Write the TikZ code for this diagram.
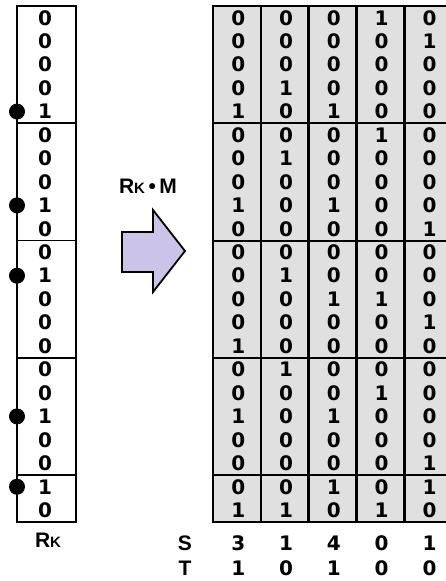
\documentclass[tikz,border=0pt]{standalone}
\usepackage{fontspec}
\setmainfont{DejaVu Sans}
\newfontfamily\labelfont{Liberation Sans}
\usetikzlibrary{positioning}
\definecolor{arrowfill}{RGB}{204,196,232}
\definecolor{cellfill}{RGB}{224,224,224}

\begin{document}
\begin{tikzpicture}[x=1pt, y=-1pt,
        bit/.style={font=\fontsize{20}{20}\selectfont\bfseries, inner sep=0pt},
        lbl/.style={font=\labelfont\fontsize{21}{21}\selectfont\bfseries, inner sep=0pt},
        col frame/.style={draw, line width=1.8pt},
        grid line/.style={draw, line width=2.6pt},
        hit/.style={circle, fill=black, minimum size=16pt, inner sep=0pt}]
    \useasboundingbox (0,0) rectangle (445,581);

    % the Rk column
    \draw[col frame] (17,6) rectangle (76,521.9);
    \foreach \b in {5,10,15,20}
        \draw[col frame] (17,{6+23.45*\b}) -- (76,{6+23.45*\b});
    \foreach \v [count=\r] in {0,0,0,0,1, 0,0,0,1,0, 0,1,0,0,0, 0,0,1,0,0, 1,0} {
        \node[bit] (rk-\r) at (45,{6+23.45*\r-11.7}) {\v};
        \ifnum\v=1 \node[hit] (dot-\r) at (17,{6+23.45*\r-11.7}) {}; \fi
    }
    \node[lbl] (rk) at (48,540) {R{\fontsize{15}{15}\selectfont K}};

    % block arrow and its label
    \draw[line width=1.8pt, fill=arrowfill, line join=miter]
        (122,232) -- (153,232) -- (153,210) -- (185,251) -- (153,292)
        -- (153,272) -- (122,272) -- cycle;
    \node[lbl] (prod) at (148,186) {R{\fontsize{15}{15}\selectfont K}\,•\,M};

    % the matrix M
    \fill[cellfill] (213,6) rectangle (452,521.9);
    \foreach \b in {5,10,15,20}
        \draw[line width=2pt] (213,{6+23.45*\b}) -- (452,{6+23.45*\b});
    \foreach \c in {1,...,4}
        \draw[grid line] ({213+47.8*\c},6) -- ({213+47.8*\c},521.9);
    \draw[grid line] (213,6) rectangle (452,521.9);
    \foreach \col [count=\c] in {
        {0,0,0,0,1, 0,0,0,1,0, 0,0,0,0,1, 0,0,1,0,0, 0,1},
        {0,0,0,1,0, 0,1,0,0,0, 0,1,0,0,0, 1,0,0,0,0, 0,1},
        {0,0,0,0,1, 0,0,0,1,0, 0,0,1,0,0, 0,0,1,0,0, 1,0},
        {1,0,0,0,0, 1,0,0,0,0, 0,0,1,0,0, 0,1,0,0,0, 0,1},
        {0,1,0,0,0, 0,0,0,0,1, 0,0,0,1,0, 0,0,0,0,1, 1,0}} {
        \foreach \v [count=\r] in \col
            \node[bit] (m-\c-\r) at ({213+47.8*\c-22.5},{6+23.45*\r-11.7}) {\v};
    }

    % S and T rows
    \node[lbl] (s) at (185,543) {S};
    \node[lbl] (t) at (185,568) {T};
    \foreach \v [count=\c] in {3,1,4,0,1}
        \node[bit] (s-\c) at ({213+47.8*\c-22.5},543) {\v};
    \foreach \v [count=\c] in {1,0,1,0,0}
        \node[bit] (t-\c) at ({213+47.8*\c-22.5},568) {\v};
\end{tikzpicture}
\end{document}
